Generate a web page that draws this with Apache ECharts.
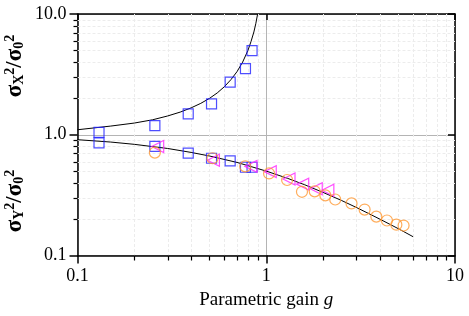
<!DOCTYPE html>
<html>
<head>
<meta charset="utf-8">
<script src="https://cdn.jsdelivr.net/npm/echarts@6/dist/echarts.min.js"></script>
<style>
html,body{margin:0;padding:0;background:#fff;}
#c{width:469px;height:316px;}
</style>
</head>
<body>
<div id="c"></div>
<script>
// ---- data ----
const xTickLabels = ['0.1', '1', '10'];
const yTickLabels = ['0.1', '1.0', '10.0'];
const minorVals = [0.2,0.3,0.4,0.5,0.6,0.7,0.8,0.9,2,3,4,5,6,7,8,9];

// sigma_X^2 measured (blue squares, upper)
const sqX = [[0.130,1.045],[0.257,1.19],[0.386,1.49],[0.513,1.80],[0.644,2.73],[0.776,3.53],[0.841,4.98]];
// sigma_Y^2 measured (blue squares, lower)
const sqY = [[0.130,0.858],[0.257,0.80],[0.386,0.704],[0.513,0.639],[0.644,0.607],[0.776,0.538],[0.841,0.538]];
// magenta triangles
const tri = [[0.266,0.80],[0.525,0.615],[0.83,0.547],[1.05,0.495],[1.32,0.43],[1.56,0.39],[1.84,0.357],[2.12,0.347]];
// orange circles
const circ = [[0.257,0.712],[0.519,0.639],[0.774,0.547],[1.035,0.478],[1.29,0.422],[1.546,0.337],[1.806,0.34],[2.056,0.315],[2.32,0.291],[2.83,0.27],[3.32,0.24],[3.83,0.21],[4.36,0.195],[4.89,0.18],[5.34,0.177]];
// theory curves
const curveX = [[0.1,1.10],[0.15,1.18],[0.2,1.25],[0.25,1.33],[0.3,1.43],[0.35,1.54],[0.4,1.67],[0.45,1.82],[0.5,2.0],[0.55,2.22],[0.6,2.5],[0.65,2.86],[0.7,3.33],[0.75,4.0],[0.8,5.0],[0.83,5.9],[0.86,7.1],[0.88,8.3],[0.9,10.0]];
const curveY = [[0.1,0.91],[0.15,0.87],[0.2,0.833],[0.3,0.77],[0.4,0.714],[0.5,0.667],[0.7,0.59],[1.0,0.50],[1.3,0.435],[1.6,0.385],[2.0,0.333],[2.5,0.286],[3.0,0.25],[3.5,0.222],[4.0,0.20],[5.0,0.167],[6.0,0.143]];

const FONT = 'Liberation Serif';
const chart = echarts.init(document.getElementById('c'));

function minorX(params, api) {
  const cs = params.coordSys;
  const p = api.coord([api.value(0), 1]);
  const x = Math.round(p[0]) + 0.5;
  const bottom = cs.y + cs.height;
  return {type:'group', children:[
    {type:'line', shape:{x1:x,y1:cs.y,x2:x,y2:bottom}, style:{stroke:'#ececec', lineWidth:1, lineDash:[3,2]}},
    {type:'line', shape:{x1:x,y1:bottom,x2:x,y2:bottom+5}, style:{stroke:'#000', lineWidth:1.2}}
  ]};
}
function minorY(params, api) {
  const cs = params.coordSys;
  const p = api.coord([1, api.value(1)]);
  const y = Math.round(p[1]) + 0.5;
  return {type:'group', children:[
    {type:'line', shape:{x1:cs.x,y1:y,x2:cs.x+cs.width,y2:y}, style:{stroke:'#ececec', lineWidth:1, lineDash:[3,2]}},
    {type:'line', shape:{x1:cs.x-4,y1:y,x2:cs.x,y2:y}, style:{stroke:'#000', lineWidth:1.2}}
  ]};
}

const axisLine = {lineStyle:{color:'#000', width:1.5}};
const subStyle = {fontFamily:FONT, fontSize:14, fontWeight:'bold', fill:'#000'};
const option = {
  backgroundColor:'#fff',
  animation:false,
  grid:{left:77.5, right:14, top:14, bottom:60.5, containLabel:false},
  xAxis:[
    {type:'log', logBase:10, min:0.1, max:10, position:'bottom',
     axisLine:axisLine, axisTick:{inside:false, length:8, lineStyle:{color:'#000', width:1.5}},
     axisLabel:{fontFamily:FONT, fontSize:18, color:'#000', margin:12,
       formatter:function(v){ const i = Math.round(Math.log10(v))+1; return xTickLabels[i]; }},
     splitLine:{show:true, lineStyle:{color:'#b4b4b4', width:1}},
     name:'{n|Parametric gain }{i|g}', nameLocation:'middle', nameGap:33,
     nameTextStyle:{rich:{n:{fontFamily:FONT, fontSize:19, color:'#000'}, i:{fontFamily:FONT, fontSize:19, fontStyle:'italic', color:'#000'}}}},
    {type:'log', logBase:10, min:0.1, max:10, position:'top',
     axisLine:axisLine, axisTick:{inside:true, length:6, lineStyle:{color:'#000', width:1.5}},
     axisLabel:{show:false}, splitLine:{show:false}}
  ],
  yAxis:[
    {type:'log', logBase:10, min:0.1, max:10, position:'left',
     axisLine:axisLine, axisTick:{inside:false, length:8, lineStyle:{color:'#000', width:1.5}},
     axisLabel:{fontFamily:FONT, fontSize:18, color:'#000', margin:11,
       formatter:function(v){ const i = Math.round(Math.log10(v))+1; return yTickLabels[i]; }},
     splitLine:{show:true, lineStyle:{color:'#b4b4b4', width:1}}},
    {type:'log', logBase:10, min:0.1, max:10, position:'right',
     axisLine:axisLine, axisTick:{inside:true, length:7, lineStyle:{color:'#000', width:1.5}},
     axisLabel:{show:false}, splitLine:{show:false}}
  ],
  graphic:[
    {type:'text', x:15, y:66, rotation:Math.PI/2,
     style:{text:'{m|σ}{s|X}{p|2}{m|/σ}{s|0}{p|2}', align:'center', verticalAlign:'middle',
       rich:{m:{fontFamily:FONT, fontSize:23, fontWeight:'bold', fill:'#000'},
             s:Object.assign({verticalAlign:'bottom', padding:[9,0,0,0]}, subStyle),
             p:Object.assign({verticalAlign:'top', padding:[0,0,9,0]}, subStyle)}}},
    {type:'text', x:15, y:201, rotation:Math.PI/2,
     style:{text:'{m|σ}{s|Y}{p|2}{m|/σ}{s|0}{p|2}', align:'center', verticalAlign:'middle',
       rich:{m:{fontFamily:FONT, fontSize:23, fontWeight:'bold', fill:'#000'},
             s:Object.assign({verticalAlign:'bottom', padding:[9,0,0,0]}, subStyle),
             p:Object.assign({verticalAlign:'top', padding:[0,0,9,0]}, subStyle)}}}
  ],
  series:[
    {type:'custom', renderItem:minorX, data:minorVals.map(v=>[v,1]), z:1, silent:true, clip:false},
    {type:'custom', renderItem:minorY, data:minorVals.map(v=>[1,v]), z:1, silent:true, clip:false},
    {type:'line', data:curveX, showSymbol:false, symbol:'none', lineStyle:{color:'#000', width:1}, z:3, smooth:false},
    {type:'line', data:curveY, showSymbol:false, symbol:'none', lineStyle:{color:'#000', width:1}, z:3, smooth:false},
    {type:'scatter', data:sqX, symbol:'rect', symbolSize:10, itemStyle:{color:'rgba(0,0,0,0)', borderColor:'#2222ff', borderWidth:1.2}, z:4},
    {type:'scatter', data:sqY, symbol:'rect', symbolSize:10, itemStyle:{color:'rgba(0,0,0,0)', borderColor:'#2222ff', borderWidth:1.2}, z:4},
    {type:'scatter', data:tri, symbol:'triangle', symbolRotate:90, symbolSize:[12,12], itemStyle:{color:'rgba(0,0,0,0)', borderColor:'#ff22ff', borderWidth:1.2}, z:4},
    {type:'scatter', data:circ, symbol:'circle', symbolSize:11, itemStyle:{color:'rgba(0,0,0,0)', borderColor:'#ff9933', borderWidth:1.2}, z:4}
  ]
};
chart.setOption(option);
</script>
</body>
</html>
